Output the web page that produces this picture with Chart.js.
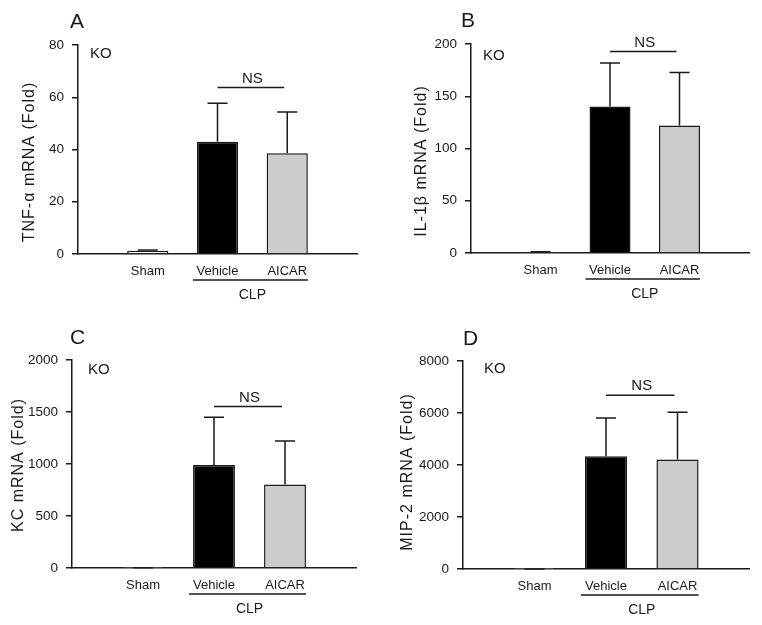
<!DOCTYPE html>
<html>
<head>
<meta charset="utf-8">
<script src="https://cdn.jsdelivr.net/npm/chart.js@4.4.1/dist/chart.umd.min.js"></script>
<style>
  body { margin: 0; background: #fff; width: 762px; height: 625px; position: relative; overflow: hidden; }
  canvas { position: absolute; }
</style>
</head>
<body>
<canvas id="cA" width="381" height="312" style="left:0;top:0"></canvas>
<canvas id="cB" width="381" height="312" style="left:381px;top:0"></canvas>
<canvas id="cC" width="381" height="313" style="left:0;top:312px"></canvas>
<canvas id="cD" width="381" height="313" style="left:381px;top:312px"></canvas>
<script>
// ---- data ---------------------------------------------------------------
// blank slots either side keep the three groups where the original puts them
const groups   = ['', 'Sham', 'Vehicle', 'AICAR', ''];

const tnfMean  = [null, 1.2, 43.0, 38.6, null];
const tnfErr   = [null, 0.3, 14.7, 15.8, null];
const il1bMean = [null, 1.0, 140.3, 122.1, null];
const il1bErr  = [null, 0.3, 41.5, 50.7, null];
const kcMean   = [null, 1, 990, 802, null];
const kcErr    = [null, 0.5, 459, 419, null];
const mip2Mean = [null, 1, 4341, 4213, null];
const mip2Err  = [null, 0.5, 1464, 1820, null];

const yMax     = [80, 200, 2000, 8000];
const yStep    = [20, 50, 500, 2000];
const nsLevel  = [63.7, 192.8, 1552, 6679];   // height of the NS bracket

// ---- style ----------------------------------------------------------------
const INK   = '#1a1a1a';
const FONT  = "'Liberation Sans', Arial, sans-serif";
const barFill = ['#ffffff', '#ffffff', '#000000', '#cccccc', '#ffffff'];

// per-panel layout (canvas px): axis box, letter, KO, y title
const panels = [
  { id: 'cA', letter: 'A', title: 'TNF-\u03b1 mRNA (Fold)', mean: tnfMean,  err: tnfErr,
    box: { x: 78, top: 45, bottom: 254, right: 357 }, letterAt: [70, 28], koAt: [90, 58],  titleAt: [30, 162] },
  { id: 'cB', letter: 'B', title: 'IL-1\u03b2 mRNA (Fold)', mean: il1bMean, err: il1bErr,
    box: { x: 90, top: 44, bottom: 253, right: 368 }, letterAt: [80, 27], koAt: [102, 60], titleAt: [41, 161] },
  { id: 'cC', letter: 'C', title: 'KC mRNA (Fold)',          mean: kcMean,   err: kcErr,
    box: { x: 72, top: 48, bottom: 256, right: 356 }, letterAt: [70, 32], koAt: [88, 62],  titleAt: [19, 153] },
  { id: 'cD', letter: 'D', title: 'MIP-2 mRNA (Fold)',       mean: mip2Mean, err: mip2Err,
    box: { x: 82, top: 49, bottom: 257, right: 368 }, letterAt: [82, 33], koAt: [103, 61], titleAt: [27, 160] },
];

// error bars, NS bracket, CLP bracket, labels
function annotations(p, ns) {
  return {
    id: 'annot' + p.letter,
    afterDatasetsDraw(chart) {
      const { ctx, chartArea: ca, scales: { x, y } } = chart;
      const bars = chart.getDatasetMeta(0).data;
      ctx.save();
      ctx.strokeStyle = INK;
      ctx.fillStyle = INK;
      ctx.lineWidth = 1.5;

      // SEM whiskers (upper only)
      p.mean.forEach((m, i) => {
        if (m == null) return;
        const px = x.getPixelForValue(i);
        const y0 = y.getPixelForValue(m);
        const y1 = y.getPixelForValue(m + p.err[i]);
        ctx.beginPath();
        ctx.moveTo(px, y0); ctx.lineTo(px, y1);
        ctx.moveTo(px - 10, y1); ctx.lineTo(px + 10, y1);
        ctx.stroke();
      });

      // NS bracket between Vehicle and AICAR
      const xv = x.getPixelForValue(2), xa = x.getPixelForValue(3);
      const yn = y.getPixelForValue(ns);
      ctx.beginPath();
      ctx.moveTo(xv, yn); ctx.lineTo(xa - 3, yn);
      ctx.stroke();
      ctx.font = '15px ' + FONT;
      ctx.textAlign = 'center';
      ctx.textBaseline = 'alphabetic';
      ctx.fillText('NS', (xv + xa) / 2, yn - 5);

      // CLP underline
      const yc = ca.bottom + 26;
      const left = bars[2].x - bars[2].width / 2 - 4;
      const right = bars[3].x + bars[3].width / 2;
      ctx.beginPath();
      ctx.moveTo(left, yc); ctx.lineTo(right, yc);
      ctx.stroke();
      ctx.font = '14px ' + FONT;
      ctx.fillText('CLP', (xv + xa) / 2, ca.bottom + 45);

      // panel letter and KO tag
      ctx.textAlign = 'left';
      ctx.font = '21px ' + FONT;
      ctx.fillText(p.letter, p.letterAt[0], p.letterAt[1]);
      ctx.font = '15px ' + FONT;
      ctx.fillText('KO', p.koAt[0], p.koAt[1]);

      // y title
      ctx.translate(p.titleAt[0], p.titleAt[1]);
      ctx.rotate(-Math.PI / 2);
      ctx.textAlign = 'center';
      ctx.textBaseline = 'middle';
      ctx.font = '16px ' + FONT;
      if ('letterSpacing' in ctx) ctx.letterSpacing = '1px';
      ctx.fillText(p.title, 0, 0);
      ctx.restore();
    },
  };
}

panels.forEach((p, k) => {
  const canvas = document.getElementById(p.id);
  const H = canvas.height, W = canvas.width;
  new Chart(canvas, {
    type: 'bar',
    data: {
      labels: groups,
      datasets: [{
        data: p.mean,
        backgroundColor: barFill,
        borderColor: INK,
        borderWidth: 1.5,
        barPercentage: 0.59,
        categoryPercentage: 1,
      }],
    },
    options: {
      responsive: false,
      animation: false,
      layout: { padding: { top: p.box.top, right: W - p.box.right, left: 0, bottom: 0 } },
      plugins: { legend: { display: false }, tooltip: { enabled: false } },
      scales: {
        x: {
          offset: false,
          grid: { display: false, drawTicks: false },
          border: { display: true, color: INK, width: 1.5 },
          ticks: { color: INK, font: { family: FONT, size: 13 }, padding: 10, autoSkip: false, maxRotation: 0 },
          afterFit: (s) => { s.height = H - p.box.bottom; },
        },
        y: {
          min: 0,
          max: yMax[k],
          grid: { drawOnChartArea: false, drawTicks: true, tickLength: 6, color: INK, lineWidth: 1.5 },
          border: { display: true, color: INK, width: 1.5 },
          ticks: {
            stepSize: yStep[k], color: INK, font: { family: FONT, size: 13.5 }, padding: 8,
            callback: (v) => String(v),
          },
          afterFit: (s) => { s.width = p.box.x; },
        },
      },
    },
    plugins: [annotations(p, nsLevel[k])],
  });
});
</script>
</body>
</html>
